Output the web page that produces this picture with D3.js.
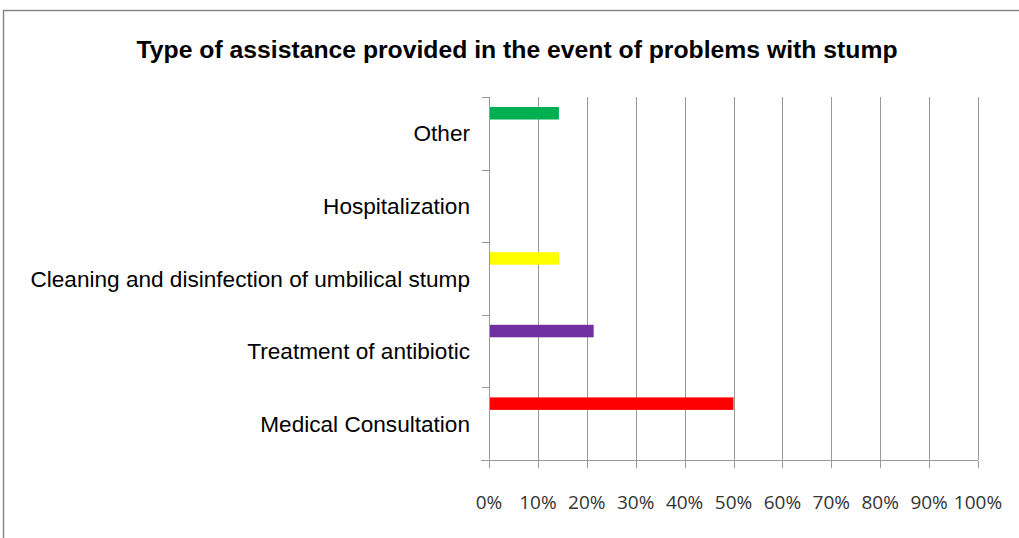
<!DOCTYPE html>
<html lang="en">
<head>
<meta charset="UTF-8">
<title>Type of assistance</title>
<script src="https://d3js.org/d3.v7.min.js"></script>
<style>
  body { margin: 0; background: #fff; }
  .grid line { stroke: #999; shape-rendering: crispEdges; }
  .axis path, .axis line { stroke: #999; shape-rendering: crispEdges; }
  .cat { font-family: "Liberation Sans", Arial, sans-serif; font-size: 22.6px; fill: #000; }
  .tick-lbl { font-family: "Open Sans", "Noto Sans", sans-serif; font-size: 19px; fill: #333; }
</style>
</head>
<body>
<div id="chart"></div>
<script>
  // categories, top to bottom as drawn
  const categories = ["Other", "Hospitalization", "Cleaning and disinfection of umbilical stump",
                      "Treatment of antibiotic", "Medical Consultation"];
  const values = [14.3, 0, 14.3, 21.4, 50];
  const colors = ["#00B050", "#FFFF00", "#FFFF00", "#7030A0", "#FF0000"];
  const tickValues = [0, 10, 20, 30, 40, 50, 60, 70, 80, 90, 100];

  const W = 1019, H = 538;
  const margin = { top: 97, right: 41, bottom: 78, left: 489 };
  const iw = W - margin.left - margin.right;
  const ih = H - margin.top - margin.bottom;

  const svg = d3.select("#chart").append("svg")
    .attr("width", W).attr("height", H);

  // outer frame
  svg.append("path")
    .attr("d", `M3.5,${H} L3.5,10.5 L${W},10.5`)
    .attr("fill", "none").attr("stroke", "#888").attr("stroke-width", 1.5);

  svg.append("text")
    .attr("x", 517).attr("y", 58)
    .attr("text-anchor", "middle")
    .attr("font-family", "'Liberation Sans Narrow', 'Liberation Sans', Arial, sans-serif")
    .attr("font-weight", "bold")
    .attr("font-size", 23)
    .attr("textLength", 761).attr("lengthAdjust", "spacingAndGlyphs")
    .text("Type of assistance provided in the event of problems with stump");

  const g = svg.append("g").attr("transform", `translate(${margin.left},${margin.top})`);

  const x = d3.scaleLinear().domain([0, 100]).range([0, iw]);
  const y = d3.scaleBand().domain(categories).range([0, ih]);

  // vertical gridlines
  g.append("g").attr("class", "grid")
    .selectAll("line").data(tickValues.slice(1)).enter().append("line")
    .attr("x1", d => Math.round(x(d)) + 0.5).attr("x2", d => Math.round(x(d)) + 0.5)
    .attr("y1", 0).attr("y2", ih);

  // y axis (left) with outside ticks at band boundaries
  const yb = d3.range(categories.length + 1).map(i => i * y.step());
  g.append("line").attr("class", "axisl")
    .attr("x1", 0.5).attr("x2", 0.5).attr("y1", 0).attr("y2", ih)
    .attr("stroke", "#999");
  g.selectAll(".ytick").data(yb).enter().append("line")
    .attr("x1", -7).attr("x2", 0)
    .attr("y1", d => Math.round(d) + 0.5).attr("y2", d => Math.round(d) + 0.5)
    .attr("stroke", "#999");

  // x axis
  const xAxis = d3.axisBottom(x).tickValues(tickValues).tickSize(7).tickFormat("");
  const xa = g.append("g").attr("class", "axis").attr("transform", `translate(0,${ih + 0.5})`).call(xAxis);
  xa.select(".domain").attr("d", `M-8,0H${iw}`);

  g.selectAll(".tick-lbl").data(tickValues).enter().append("text")
    .attr("class", "tick-lbl")
    .attr("x", d => x(d)).attr("y", ih + 49)
    .attr("text-anchor", "middle")
    .text(d => d + "%");

  // category labels
  g.selectAll(".cat").data(categories).enter().append("text")
    .attr("class", "cat")
    .attr("x", -19).attr("y", d => y(d) + y.step() / 2 + 8)
    .attr("text-anchor", "end")
    .text(d => d);

  // bars
  const barOffset = 10, barH = 12.5;
  g.selectAll(".bar").data(categories).enter().append("rect")
    .attr("class", "bar")
    .attr("x", 1)
    .attr("y", d => y(d) + barOffset)
    .attr("width", (d, i) => Math.max(0, x(values[i]) - 1))
    .attr("height", barH)
    .attr("fill", (d, i) => colors[i]);
</script>
</body>
</html>
